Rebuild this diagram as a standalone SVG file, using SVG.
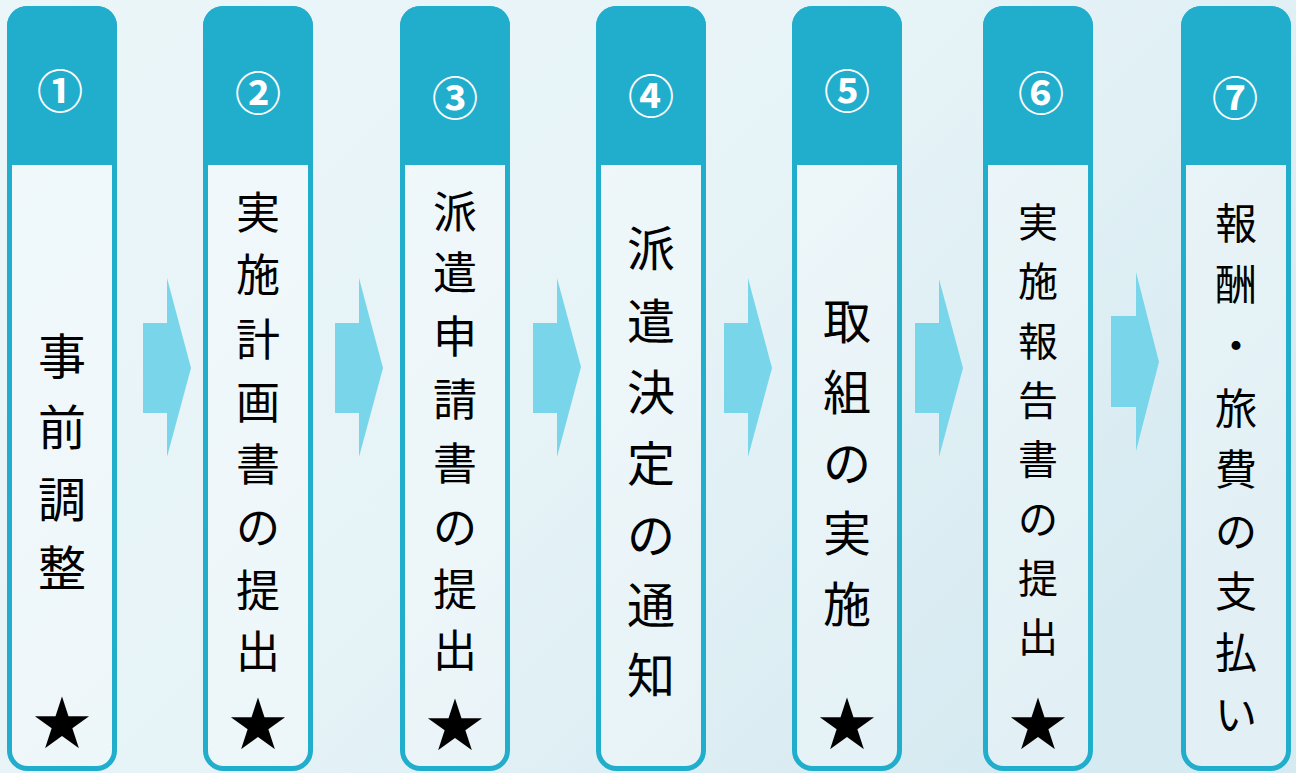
<svg xmlns="http://www.w3.org/2000/svg" xmlns:xlink="http://www.w3.org/1999/xlink" width="1296" height="773" viewBox="0 0 1296 773">
<style>
.num{font-family:"Noto Sans CJK JP","Noto Sans",sans-serif;font-size:46px;font-weight:bold;fill:#ffffff;text-anchor:middle;dominant-baseline:central}
.lbl{font-family:"Noto Sans CJK JP",sans-serif;fill:#000000;text-anchor:middle;dominant-baseline:central}
.star{font-family:"Noto Sans CJK JP","DejaVu Sans",sans-serif;font-size:58px;fill:#000000;text-anchor:middle;dominant-baseline:central}
.arrow{fill:#79d5e9}
</style>
<defs>
<linearGradient id="bg" x1="0" y1="0" x2="1" y2="0.6">
<stop offset="0" stop-color="#ebf6f9"/>
<stop offset="0.55" stop-color="#e6f3f7"/>
<stop offset="1" stop-color="#d6eaf1"/>
</linearGradient>
<g id="colShape">
<rect x="2.5" y="8.5" width="105" height="760" rx="18" fill="#ffffff" fill-opacity="0.3" stroke="#21aecd" stroke-width="5"/>
<path d="M0,165 V26 A20,20 0 0 1 20,6 H90 A20,20 0 0 1 110,26 V165 Z" fill="#21aecd"/>
</g>
</defs>
<rect x="0" y="0" width="1296" height="773" fill="url(#bg)"/>

<g id="connectors">
<polygon class="arrow" points="143,323 167,323 167,278 191,368 167,457 167,413 143,413"/>
<polygon class="arrow" points="335,323 359,323 359,278 383,368 359,457 359,413 335,413"/>
<polygon class="arrow" points="533,323 557,323 557,278 581,367 557,457 557,413 533,413"/>
<polygon class="arrow" points="724,323 748,323 748,278 772,368 748,457 748,413 724,413"/>
<polygon class="arrow" points="915,323 939,323 939,279 963,368 939,457 939,413 915,413"/>
<polygon class="arrow" points="1111,316 1136,316 1136,272 1159,362 1136,451 1136,407 1111,407"/>
</g>

<g id="step1">
<use xlink:href="#colShape" transform="translate(7,0)"/>
<text class="num" x="60" y="88">①</text>
<text class="lbl" font-size="48"><tspan x="62" y="353">事</tspan><tspan x="62" y="424">前</tspan><tspan x="62" y="496">調</tspan><tspan x="62" y="565">整</tspan></text>
<text class="star" x="62" y="719">★</text>
</g>

<g id="step2">
<use xlink:href="#colShape" transform="translate(203,0)"/>
<text class="num" x="258" y="90">②</text>
<text class="lbl" font-size="44"><tspan x="258" y="210">実</tspan><tspan x="258" y="272">施</tspan><tspan x="258" y="337">計</tspan><tspan x="258" y="400">画</tspan><tspan x="258" y="462">書</tspan><tspan x="258" y="525">の</tspan><tspan x="258" y="588">提</tspan><tspan x="258" y="649">出</tspan></text>
<text class="star" x="258" y="720">★</text>
</g>

<g id="step3">
<use xlink:href="#colShape" transform="translate(400,0)"/>
<text class="num" x="455" y="95">③</text>
<text class="lbl" font-size="44"><tspan x="455" y="209">派</tspan><tspan x="455" y="270">遣</tspan><tspan x="455" y="334">申</tspan><tspan x="455" y="397">請</tspan><tspan x="455" y="461">書</tspan><tspan x="455" y="525">の</tspan><tspan x="455" y="587">提</tspan><tspan x="455" y="648">出</tspan></text>
<text class="star" x="455" y="721">★</text>
</g>

<g id="step4">
<use xlink:href="#colShape" transform="translate(596,0)"/>
<text class="num" x="651" y="93">④</text>
<text class="lbl" font-size="48"><tspan x="651" y="245">派</tspan><tspan x="651" y="318">遣</tspan><tspan x="651" y="389">決</tspan><tspan x="651" y="460">定</tspan><tspan x="651" y="532">の</tspan><tspan x="651" y="602">通</tspan><tspan x="651" y="672">知</tspan></text>
</g>

<g id="step5">
<use xlink:href="#colShape" transform="translate(792,0)"/>
<text class="num" x="847" y="88">⑤</text>
<text class="lbl" font-size="48"><tspan x="847" y="318">取</tspan><tspan x="847" y="389">組</tspan><tspan x="847" y="460">の</tspan><tspan x="847" y="530">実</tspan><tspan x="847" y="601">施</tspan></text>
<text class="star" x="847" y="720">★</text>
</g>

<g id="step6">
<use xlink:href="#colShape" transform="translate(983,0)"/>
<text class="num" x="1041" y="90">⑥</text>
<text class="lbl" font-size="40"><tspan x="1038" y="220">実</tspan><tspan x="1038" y="279">施</tspan><tspan x="1038" y="339">報</tspan><tspan x="1038" y="398">告</tspan><tspan x="1038" y="457">書</tspan><tspan x="1038" y="517">の</tspan><tspan x="1038" y="576">提</tspan><tspan x="1038" y="635">出</tspan></text>
<text class="star" x="1038" y="720">★</text>
</g>

<g id="step7">
<use xlink:href="#colShape" transform="translate(1181,0)"/>
<text class="num" x="1235" y="95">⑦</text>
<text class="lbl" font-size="42"><tspan x="1236" y="220">報</tspan><tspan x="1236" y="281">酬</tspan><tspan x="1236" y="342">・</tspan><tspan x="1236" y="405">旅</tspan><tspan x="1236" y="466">費</tspan><tspan x="1236" y="528">の</tspan><tspan x="1236" y="588">支</tspan><tspan x="1236" y="649">払</tspan><tspan x="1236" y="711">い</tspan></text>
</g>
</svg>
